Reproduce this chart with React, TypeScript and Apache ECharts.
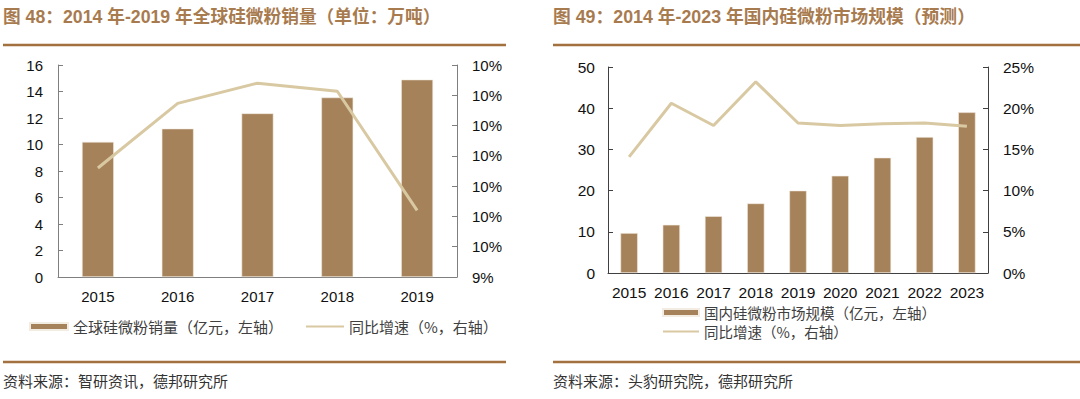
import React, { useEffect, useRef } from "react";
import * as echarts from "echarts";

// ---- Left chart data ----
const leftYears = ["2015", "2016", "2017", "2018", "2019"];
const leftSales = [10.2, 11.2, 12.35, 13.55, 14.9];
const leftGrowth = [9.99, 10.31, 10.41, 10.37, 9.78];
const leftRightTicks = ["9%", "10%", "10%", "10%", "10%", "10%", "10%", "10%"];
const leftTitle = "图 48：2014 年-2019 年全球硅微粉销量（单位：万吨）";
const leftBarName = "全球硅微粉销量（亿元，左轴）";
const leftSource = "资料来源：智研资讯，德邦研究所";

// ---- Right chart data ----
const rightYears = ["2015", "2016", "2017", "2018", "2019", "2020", "2021", "2022", "2023"];
const rightMarket = [9.7, 11.7, 13.8, 16.9, 20.0, 23.6, 28.0, 33.0, 39.0];
const rightGrowth = [14.1, 20.6, 17.9, 23.2, 18.2, 17.9, 18.1, 18.2, 17.8];
const rightTitle = "图 49：2014 年-2023 年国内硅微粉市场规模（预测）";
const rightBarName = "国内硅微粉市场规模（亿元，左轴）";
const rightSource = "资料来源：头豹研究院，德邦研究所";

const growthName = "同比增速（%，右轴）";

const BAR = "#a6825a";
const LINE = "#d9c9a2";
const BROWN = "#a3713f";
const TITLE = "#a87b4f";
const FONT = "'Liberation Sans', Arial, 'Noto Sans CJK SC', sans-serif";
const CJK = "'Noto Sans CJK SC', sans-serif";

function decorations(title: string, source: string, x0: number, x1: number, titleSize: number) {
  return [
    {
      type: "text",
      left: x0,
      top: 8,
      style: { text: title, font: `bold ${titleSize}px ${FONT}`, fill: TITLE },
    },
    {
      type: "line",
      shape: { x1: x0, y1: 45, x2: x1, y2: 45 },
      style: { stroke: BROWN, lineWidth: 2.5 },
    },
    {
      type: "line",
      shape: { x1: x0, y1: 362, x2: x1, y2: 362 },
      style: { stroke: BROWN, lineWidth: 2.5 },
    },
    {
      type: "text",
      left: x0,
      top: 373,
      style: { text: source, font: `15px ${CJK}`, fill: "#333" },
    },
  ];
}

const lineLegendItem = {
  name: growthName,
  itemStyle: { opacity: 0, color: "transparent", borderWidth: 0 },
};

function leftOption(): any {
  const axisColor = "#7f7f7f";
  return {
    animation: false,
    textStyle: { fontFamily: FONT },
    grid: { left: 58, right: 83, top: 65, bottom: 122 },
    legend: {
      left: 29,
      top: 319,
      padding: 0,
      itemWidth: 38,
      itemHeight: 7,
      itemGap: 22,
      textStyle: { fontFamily: CJK, fontSize: 15, color: "#404040" },
      data: [{ name: leftBarName, icon: "rect" }, lineLegendItem],
    },
    xAxis: {
      type: "category",
      data: leftYears,
      axisLine: { lineStyle: { color: axisColor } },
      axisTick: { inside: true, length: 5, lineStyle: { color: axisColor } },
      axisLabel: { fontSize: 15, color: "#111", margin: 12, fontFamily: FONT },
    },
    yAxis: [
      {
        type: "value",
        min: 0,
        max: 16,
        interval: 2,
        axisLine: { show: true, lineStyle: { color: axisColor } },
        axisTick: { show: true, inside: true, length: 5, lineStyle: { color: axisColor } },
        axisLabel: { fontSize: 15, color: "#111", margin: 15, fontFamily: FONT },
        splitLine: { show: false },
      },
      {
        type: "value",
        min: 9.45,
        max: 10.5,
        interval: 0.15,
        position: "right",
        axisLine: { show: true, lineStyle: { color: axisColor } },
        axisTick: { show: true, inside: true, length: 5, lineStyle: { color: axisColor } },
        axisLabel: {
          fontSize: 15,
          color: "#111",
          margin: 15,
          fontFamily: FONT,
          formatter: (_v: number, i: number) => leftRightTicks[i] ?? "",
        },
        splitLine: { show: false },
      },
    ],
    series: [
      {
        name: leftBarName,
        type: "bar",
        data: leftSales,
        barWidth: "40%",
        itemStyle: { color: BAR, borderColor: "#f3ece2", borderWidth: 0.6 },
      },
      {
        name: growthName,
        type: "line",
        yAxisIndex: 1,
        data: leftGrowth,
        symbol: "none",
        lineStyle: { color: LINE, width: 3 },
        itemStyle: { color: LINE },
      },
    ],
    graphic: decorations(leftTitle, leftSource, 3, 506, 17.7),
  };
}

function rightOption(): any {
  const axisColor = "#404040";
  return {
    animation: false,
    textStyle: { fontFamily: FONT },
    grid: { left: 68, right: 92, top: 67, bottom: 126 },
    legend: {
      orient: "vertical",
      left: 122,
      top: 305,
      padding: 0,
      itemWidth: 36,
      itemHeight: 7,
      itemGap: 4,
      textStyle: { fontFamily: CJK, fontSize: 14.5, lineHeight: 15, color: "#404040" },
      data: [{ name: rightBarName, icon: "rect" }, lineLegendItem],
    },
    xAxis: {
      type: "category",
      data: rightYears,
      axisLine: { lineStyle: { color: axisColor } },
      axisTick: { inside: true, length: 5, lineStyle: { color: axisColor } },
      axisLabel: { fontSize: 15.5, color: "#111", margin: 12, fontFamily: FONT, interval: 0 },
    },
    yAxis: [
      {
        type: "value",
        min: 0,
        max: 50,
        interval: 10,
        axisLine: { show: true, lineStyle: { color: axisColor } },
        axisTick: { show: true, inside: true, length: 5, lineStyle: { color: axisColor } },
        axisLabel: { fontSize: 15.5, color: "#111", margin: 13, fontFamily: FONT },
        splitLine: { show: false },
      },
      {
        type: "value",
        min: 0,
        max: 25,
        interval: 5,
        position: "right",
        axisLine: { show: true, lineStyle: { color: axisColor } },
        axisTick: { show: true, inside: true, length: 5, lineStyle: { color: axisColor } },
        axisLabel: { fontSize: 15.5, color: "#111", margin: 15, fontFamily: FONT, formatter: "{value}%" },
        splitLine: { show: false },
      },
    ],
    series: [
      {
        name: rightBarName,
        type: "bar",
        data: rightMarket,
        barWidth: "41%",
        itemStyle: { color: BAR, borderColor: "#f3ece2", borderWidth: 0.6 },
      },
      {
        name: growthName,
        type: "line",
        yAxisIndex: 1,
        data: rightGrowth,
        symbol: "none",
        lineStyle: { color: LINE, width: 3 },
        itemStyle: { color: LINE },
      },
    ],
    graphic: decorations(rightTitle, rightSource, 13, 540, 17.8),
  };
}

function Chart({ option }: { option: () => any }) {
  const ref = useRef<HTMLDivElement>(null);
  useEffect(() => {
    if (!ref.current) return;
    const chart = echarts.init(ref.current, null, { renderer: "svg" });
    chart.setOption(option());
    return () => chart.dispose();
  }, [option]);
  return <div ref={ref} style={{ width: 540, height: 399 }} />;
}

export default function App() {
  useEffect(() => {
    document.body.style.margin = "0";
  }, []);
  return (
    <div style={{ display: "flex", width: 1080, height: 399, background: "#fff" }}>
      <Chart option={leftOption} />
      <Chart option={rightOption} />
    </div>
  );
}
